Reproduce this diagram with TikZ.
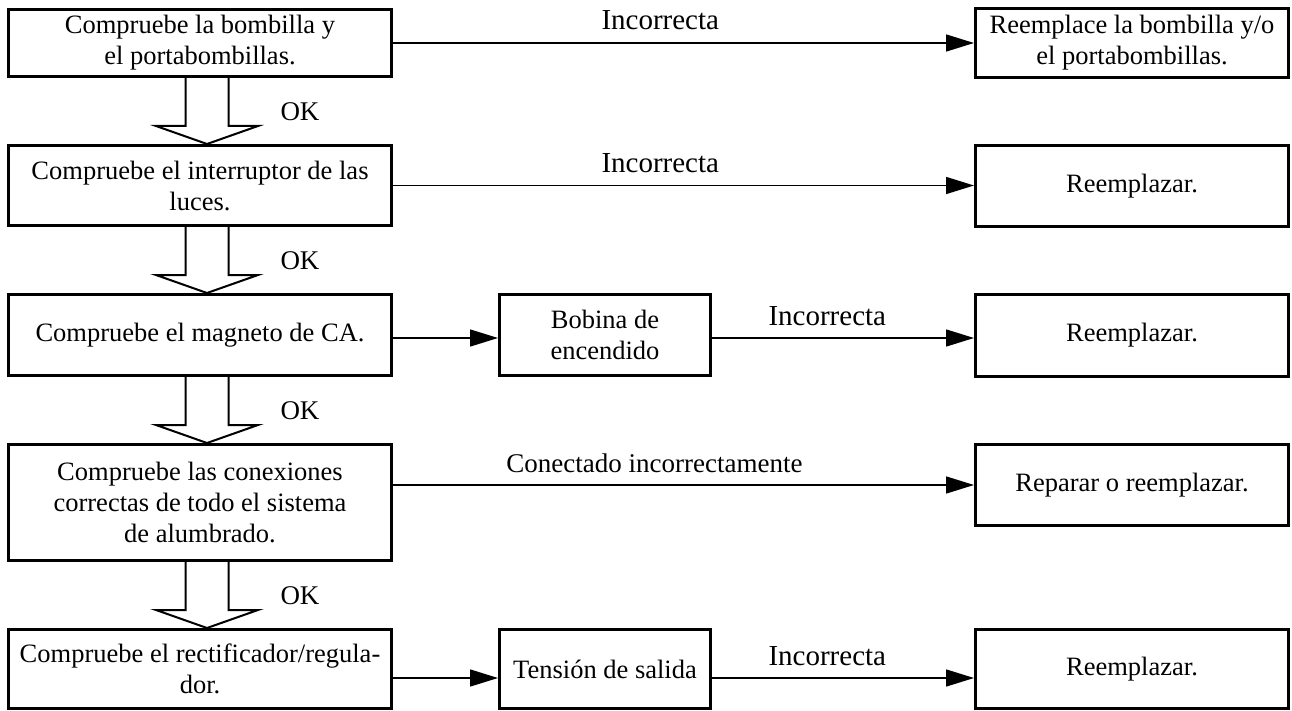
\documentclass[tikz,border=0pt]{standalone}
\usepackage{fontspec}
\setmainfont{Liberation Serif}
\usetikzlibrary{arrows.meta,calc}

\tikzset{
  box/.style={draw, line width=3pt, inner sep=0pt, align=center,
    font=\fontsize{26.5pt}{31pt}\selectfont},
  leftbox/.style={box, minimum width=383pt},
  midbox/.style={box, minimum width=211pt},
  rightbox/.style={box, minimum width=313pt},
  link/.style={line width=1.5pt, -{Triangle[length=28pt,width=17pt]}},
  okarrow/.style={line width=2pt, line join=miter},
  lbl/.style={font=\fontsize{29pt}{33pt}\selectfont, inner sep=0pt, anchor=base},
  oklabel/.style={font=\fontsize{27pt}{31pt}\selectfont, inner sep=0pt}
}
% hollow OK arrow between two boxes
\newcommand{\okstep}[3]{%
  \draw[okarrow] ($(#1.south)+(-14.5,0)$) -- ++(0,48) -- ++(-29.5,0)
    -- ($(#2.north)+(7,0)$) -- ($(#1.south)+(58,48)$) -- ++(-29.5,0)
    -- ($(#1.south)+(28.5,0)$);
  \node[oklabel] (#3) at ($(#1.south)+(100,34)$) {OK};}

\begin{document}
\begin{tikzpicture}[x=1pt,y=-1pt]
\useasboundingbox (0,0) rectangle (1292,711);
% checks (left column):
\node[leftbox, minimum height=67pt] (b1) at (200,43) {Compruebe la bombilla y\\el portabombillas.};
\node[leftbox, minimum height=80pt] (b2) at (200,185.5) {Compruebe el interruptor de las\\luces.};
\node[leftbox, minimum height=81pt] (b3) at (200,335) {Compruebe el magneto de CA.};
\node[leftbox, minimum height=116pt] (b4) at (200,502.5) {Compruebe las conexiones\\correctas de todo el sistema\\de alumbrado.};
\node[leftbox, minimum height=79pt] (b5) at (200,669) {Compruebe el rectificador/regula-\\dor.};
% intermediate checks:
\node[midbox, minimum height=81pt] (bob) at (605,335) {Bobina de\\encendido};
\node[midbox, minimum height=79pt] (ten) at (605,669) {Tensión de salida};
% remedies (right column):
\node[rightbox, minimum height=69pt] (r1) at (1132,43) {Reemplace la bombilla y/o\\el portabombillas.};
\node[rightbox, minimum height=81pt] (r2) at (1132,186) {Reemplazar.};
\node[rightbox, minimum height=82pt] (r3) at (1132,335.5) {Reemplazar.};
\node[rightbox, minimum height=81pt] (r4) at (1132,485) {Reparar o reemplazar.};
\node[rightbox, minimum height=79pt] (r5) at (1132,669) {Reemplazar.};
% OK steps:
\okstep{b1}{b2}{ok1}
\okstep{b2}{b3}{ok2}
\okstep{b3}{b4}{ok3}
\okstep{b4}{b5}{ok4}
% faults:
\draw[link] (b1.east) -- (b1.east -| r1.west) node[lbl, pos=0.46, yshift=13pt] (in1) {Incorrecta};
\draw[link] (b2.east) -- (b2.east -| r2.west) node[lbl, pos=0.46, yshift=13pt] (in2) {Incorrecta};
\draw[link] ([yshift=-3pt]b3.east) -- ([yshift=-3pt]bob.west);
\draw[link] ([yshift=-3pt]bob.east) -- ([yshift=-3pt]bob.east -| r3.west) node[lbl, pos=0.44, yshift=13pt] (in3) {Incorrecta};
\draw[link] (b4.east |- r4.west) -- (r4.west) node[lbl, pos=0.45, yshift=13pt, font=\fontsize{27pt}{31pt}\selectfont] (in4) {Conectado incorrectamente};
\draw[link] ([yshift=-9pt]b5.east) -- ([yshift=-9pt]ten.west);
\draw[link] ([yshift=-9pt]ten.east) -- ([yshift=-9pt]ten.east -| r5.west) node[lbl, pos=0.44, yshift=13pt] (in5) {Incorrecta};
\end{tikzpicture}
\end{document}
